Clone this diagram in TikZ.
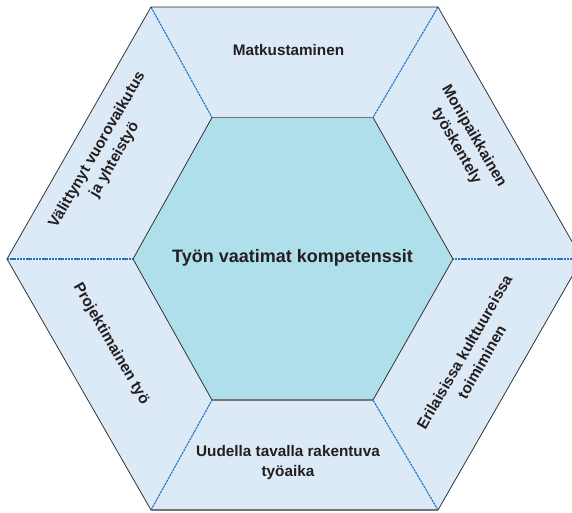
\documentclass[tikz,border=0pt]{standalone}
\usepackage{fontspec}
\setmainfont{Liberation Sans}
\definecolor{ringfill}{HTML}{DCE9F6}
\definecolor{corefill}{HTML}{AEDFEA}
\definecolor{seam}{HTML}{2274C4}
\definecolor{edge}{HTML}{2B2B2B}
\definecolor{ink}{HTML}{231F20}
\tikzset{
  seamline/.style={seam, line width=1.1pt, dash pattern=on 2.4pt off 0.8pt},
  rimline/.style={edge, line width=0.75pt, line join=miter},
  sidelabel/.style={text=ink, align=center, font=\bfseries\fontsize{15.3}{20}\selectfont, inner sep=0pt},
  corelabel/.style={text=ink, align=center, font=\bfseries\fontsize{18}{22}\selectfont, inner sep=0pt}
}
\begin{document}
\begin{tikzpicture}[x=1pt,y=-1pt]
\useasboundingbox (0,0) rectangle (572,513);
\clip (0,0) rectangle (572,513);
% outer hexagon corners
\coordinate (o1) at (151,7);
\coordinate (o2) at (438,7);
\coordinate (o3) at (582,259);
\coordinate (o4) at (438,510);
\coordinate (o5) at (151,510);
\coordinate (o6) at (7,259);
% inner hexagon corners
\coordinate (i1) at (212,117.5);
\coordinate (i2) at (373,117.5);
\coordinate (i3) at (453,259);
\coordinate (i4) at (373,400);
\coordinate (i5) at (212,400);
\coordinate (i6) at (133,259);
% ring and core
\fill[ringfill] (o1) -- (o2) -- (o3) -- (o4) -- (o5) -- (o6) -- cycle;
\fill[corefill] (i1) -- (i2) -- (i3) -- (i4) -- (i5) -- (i6) -- cycle;
% seams between the six panels
\foreach \k in {1,...,6} \draw[seamline] (o\k) -- (i\k);
% borders
\draw[rimline] (o1) -- (o2) -- (o3) -- (o4) -- (o5) -- (o6) -- cycle;
\draw[rimline] (i1) -- (i2) -- (i3) -- (i4) -- (i5) -- (i6) -- cycle;
\draw[edge!65, line width=1.6pt] (o4) -- (o5);
\draw[edge!65, line width=1.4pt] (i1) -- (i2);
\draw[edge!65, line width=1.4pt] (i4) -- (i5);
% labels
\node[corelabel] (core) at (292.5,258) {Työn vaatimat kompetenssit};
\node[sidelabel] (top) at (288.5,50) {Matkustaminen};
\node[sidelabel, rotate=-60] (topright) at (465,141) {Monipaikkainen\\työskentely};
\node[sidelabel, rotate=60] (botright) at (473,357) {Erilaisissa kulttuureissa\\toimiminen};
\node[sidelabel] (bottom) at (288,463) {Uudella tavalla rakentuva\\työaika};
\node[sidelabel, rotate=-60] (botleft) at (111,344) {Projektimainen työ};
\node[sidelabel, rotate=60] (topleft) at (106,155) {Välittynyt vuorovaikutus\\ja yhteistyö};
\end{tikzpicture}
\end{document}
